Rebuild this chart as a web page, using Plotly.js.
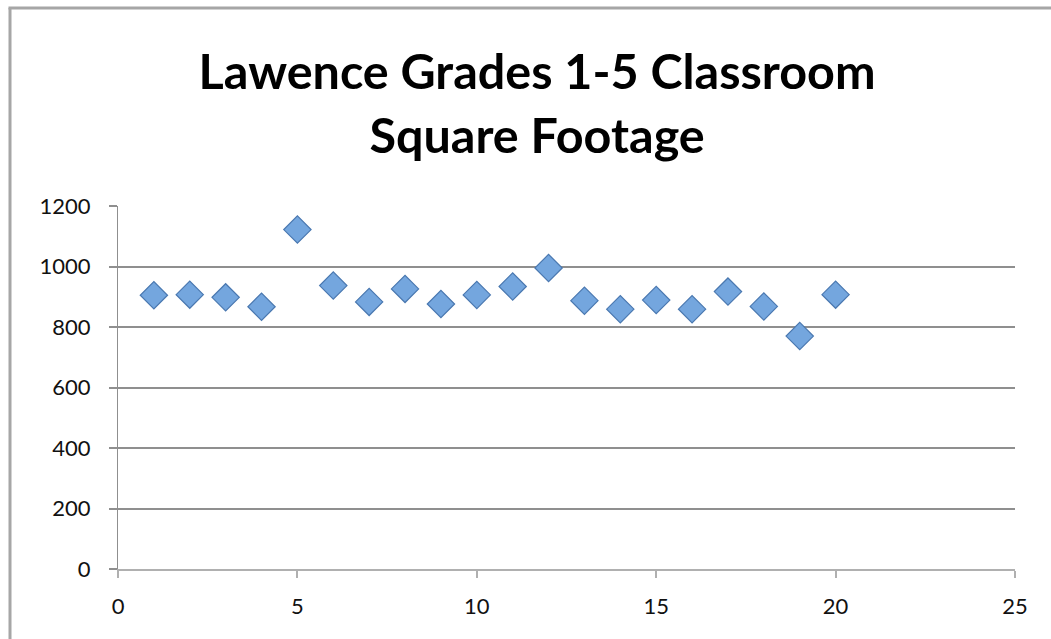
<!DOCTYPE html>
<html>
<head>
<meta charset="utf-8">
<script src="https://cdn.plot.ly/plotly-3.0.1.min.js"></script>
<style>
  html, body { margin: 0; padding: 0; background: #ffffff; }
  #chart { width: 1051px; height: 639px; }
</style>
</head>
<body>
<div id="chart"></div>
<script>
// Data
const classroomNumber = [1, 2, 3, 4, 5, 6, 7, 8, 9, 10, 11, 12, 13, 14, 15, 16, 17, 18, 19, 20];
const squareFootage = [905, 907, 898, 867, 1122, 937, 883, 926, 876, 906, 934, 995, 887, 859, 889, 859, 917, 868, 770, 907];
const xTicks = [0, 5, 10, 15, 20, 25];
const yTicks = [0, 200, 400, 600, 800, 1000, 1200];
const chartTitle = 'Lawence Grades 1-5 Classroom<br>Square Footage';

const trace = {
  type: 'scatter',
  mode: 'markers',
  x: classroomNumber,
  y: squareFootage,
  marker: {
    symbol: 'diamond',
    size: 21,
    color: '#74a6de',
    line: { color: '#4a78b0', width: 1.2 }
  },
  hoverinfo: 'x+y'
};

const borderColor = '#a6a6a6';
const tickFont = { family: 'Lato, "Open Sans", sans-serif', size: 22, color: '#111111' };
const layout = {
  width: 1051,
  height: 639,
  paper_bgcolor: '#ffffff',
  plot_bgcolor: '#ffffff',
  margin: { l: 118, r: 36, t: 206, b: 70 },
  showlegend: false,
  title: {
    text: chartTitle,
    font: { family: 'Lato, "Open Sans", sans-serif', size: 48.5, color: '#000000', weight: 'bold' },
    x: 0.511,
    xanchor: 'center',
    y: 0.86,
    yanchor: 'top'
  },
  xaxis: {
    range: [0, 25],
    tickvals: xTicks,
    ticktext: xTicks.map(String),
    showgrid: false,
    zeroline: false,
    showline: true,
    linecolor: '#b0b0b0',
    linewidth: 2,
    ticks: 'outside',
    ticklen: 7,
    tickcolor: '#b0b0b0',
    tickwidth: 1.5,
    ticklabelstandoff: 10,
    tickfont: tickFont,
    fixedrange: true
  },
  yaxis: {
    range: [0, 1200],
    tickvals: yTicks,
    ticktext: yTicks.map(String),
    showgrid: true,
    gridcolor: '#8f8f8f',
    gridwidth: 1.5,
    zeroline: false,
    showline: true,
    linecolor: '#8f8f8f',
    linewidth: 1,
    ticks: 'outside',
    ticklen: 8,
    tickcolor: '#8f8f8f',
    tickwidth: 1.5,
    ticklabelstandoff: 14,
    tickfont: tickFont,
    fixedrange: true
  },
  shapes: [
    { type: 'line', xref: 'paper', yref: 'paper', x0: -0.1204, x1: -0.1204, y0: 1.5455, y1: -0.2, line: { color: borderColor, width: 3 } },
    { type: 'line', xref: 'paper', yref: 'paper', x0: -0.1221, x1: 1.05, y0: 1.5455, y1: 1.5455, line: { color: borderColor, width: 3 } }
  ]
};

Plotly.newPlot('chart', [trace], layout, { displayModeBar: false, staticPlot: false });
</script>
</body>
</html>
